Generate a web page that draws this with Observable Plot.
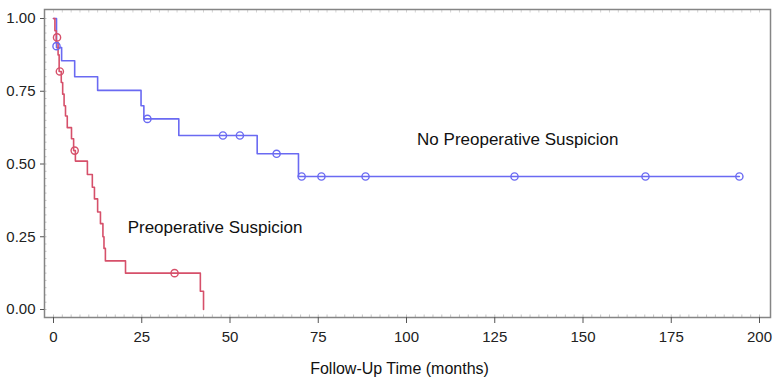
<!DOCTYPE html>
<html><head><meta charset="utf-8">
<script src="https://cdn.jsdelivr.net/npm/d3@7"></script>
<script src="https://cdn.jsdelivr.net/npm/@observablehq/plot@0.6"></script>
<style>
body{margin:0;background:#fff}
#chart svg{display:block}
</style>
</head><body><div id="chart"></div>
<script>
// Group 1: No Preoperative Suspicion (blue)
const noSuspTime = [0, 0.85, 2.3, 6.0, 12.5, 24.8, 25.6, 35.5, 57.7, 69.4, 194.3];
const noSuspSurv = [1.0, 0.90, 0.855, 0.80, 0.753, 0.70, 0.655, 0.598, 0.535, 0.457, 0.457];
const noSuspCensorTime = [0.85, 26.6, 48.0, 52.8, 63.2, 70.3, 75.9, 88.4, 130.6, 167.7, 194.3];
const noSuspCensorSurv = [0.905, 0.655, 0.598, 0.598, 0.535, 0.457, 0.457, 0.457, 0.457, 0.457, 0.457];

// Group 2: Preoperative Suspicion (red)
const suspTime = [0, 0.4, 0.8, 1.3, 1.6, 2.2, 2.6, 3.0, 3.4, 3.9, 5.1, 5.7, 6.2, 9.6, 11.0, 11.6, 12.5, 13.3, 14.0, 14.3, 14.7, 20.4, 41.6, 42.5];
const suspSurv = [1.0, 0.958, 0.917, 0.875, 0.818, 0.78, 0.74, 0.70, 0.665, 0.625, 0.587, 0.546, 0.51, 0.464, 0.42, 0.38, 0.335, 0.295, 0.25, 0.21, 0.167, 0.125, 0.0625, 0];
const suspCensorTime = [1.0, 1.8, 6.0, 34.3];
const suspCensorSurv = [0.935, 0.818, 0.546, 0.125];

// Labels
const groupLabels = ["No Preoperative Suspicion", "Preoperative Suspicion"];
const groupLabelTime = [103, 21];
const groupLabelSurv = [0.584, 0.282];

const xTicks = [0, 25, 50, 75, 100, 125, 150, 175, 200];
const yTicks = [0, 0.25, 0.5, 0.75, 1.0];
const xMinorTicks = d3.range(0, 202.5, 2.5);
const yMinorTicks = d3.range(0, 1.0125, 0.025);
const xTitle = "Follow-Up Time (months)";

const BLUE = "#6a6af2";
const RED = "#d6506a";

const toRows = (ts, ss) => ts.map((t, i) => ({t, s: ss[i]}));
const noSusp = toRows(noSuspTime, noSuspSurv);
const susp = toRows(suspTime, suspSurv);
const noSuspC = toRows(noSuspCensorTime, noSuspCensorSurv);
const suspC = toRows(suspCensorTime, suspCensorSurv);
const labels = groupLabels.map((text, i) => ({text, t: groupLabelTime[i], s: groupLabelSurv[i]}));

const tickFont = "'Liberation Sans Narrow', 'Arial Narrow', sans-serif";
const blank = () => "";

const chart = Plot.plot({
  width: 773,
  height: 384,
  marginLeft: 44,
  marginRight: 3,
  marginTop: 9,
  marginBottom: 67,
  style: {fontFamily: "'Liberation Sans', Arial, sans-serif", background: "#fff", color: "#222"},
  x: {domain: [0, 200], insetLeft: 9, insetRight: 11},
  y: {domain: [0, 1], insetTop: 9, insetBottom: 8},
  marks: [
    Plot.axisX({ticks: xMinorTicks, tickSize: -2.5, tickFormat: blank, label: null, stroke: "#c4c4c4"}),
    Plot.axisX({ticks: xMinorTicks, anchor: "top", tickSize: -2.5, tickFormat: blank, label: null, stroke: "#d4d4d4"}),
    Plot.axisY({ticks: yMinorTicks, tickSize: -2.5, tickFormat: blank, label: null, stroke: "#c4c4c4"}),
    Plot.frame({stroke: "#858585", strokeWidth: 1.5}),
    Plot.axisX({ticks: xTicks, tickSize: 6, tickPadding: 8, label: null, fontSize: 15, fontFamily: tickFont, stroke: "#555"}),
    Plot.axisY({ticks: yTicks, tickSize: 4, tickPadding: 5, tickFormat: d3.format(".2f"), label: null, fontSize: 15, fontFamily: tickFont, stroke: "#555"}),
    Plot.line(noSusp, {x: "t", y: "s", curve: "step-after", stroke: BLUE, strokeWidth: 1.6}),
    Plot.line(susp, {x: "t", y: "s", curve: "step-after", stroke: RED, strokeWidth: 1.6}),
    Plot.dot(noSuspC, {x: "t", y: "s", r: 3.6, stroke: BLUE, strokeWidth: 1.4}),
    Plot.dot(suspC, {x: "t", y: "s", r: 3.6, stroke: RED, strokeWidth: 1.4}),
    Plot.text(labels, {x: "t", y: "s", text: "text", textAnchor: "start", fontSize: 17, fill: "#111"}),
    Plot.text([xTitle], {text: d => d, frameAnchor: "bottom", dy: 56, dx: -8, fontSize: 16, fill: "#111"})
  ]
});
document.getElementById("chart").append(chart);
</script>
</body></html>
